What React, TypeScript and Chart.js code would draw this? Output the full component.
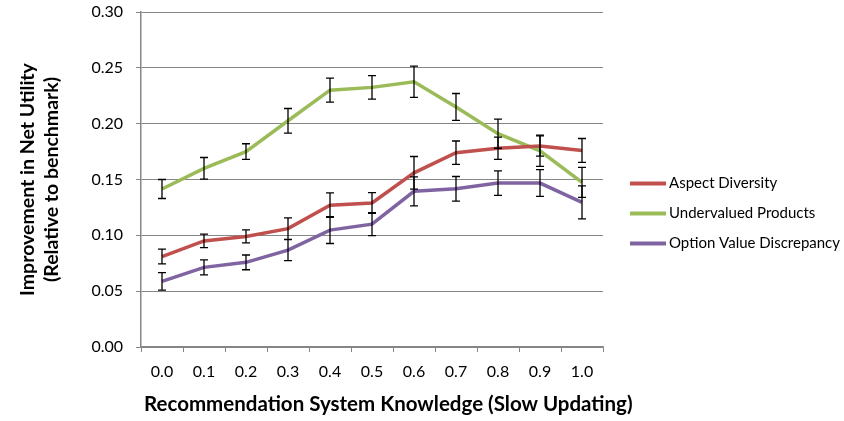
import React, { useEffect, useRef } from "react";
import { Chart, registerables } from "chart.js";

Chart.register(...registerables);

const categories = ["0.0", "0.1", "0.2", "0.3", "0.4", "0.5", "0.6", "0.7", "0.8", "0.9", "1.0"];

const aspectDiversity = [0.081, 0.095, 0.099, 0.106, 0.127, 0.129, 0.156, 0.174, 0.178, 0.18, 0.176];
const aspectDiversityErr = [0.0066, 0.006, 0.0058, 0.0097, 0.011, 0.0093, 0.0146, 0.0105, 0.01, 0.009, 0.0107];

const undervaluedProducts = [0.1415, 0.16, 0.175, 0.2026, 0.23, 0.2325, 0.2375, 0.215, 0.191, 0.1757, 0.1474];
const undervaluedProductsErr = [0.0085, 0.0097, 0.007, 0.011, 0.0107, 0.0105, 0.014, 0.012, 0.013, 0.014, 0.0134];

const optionValue = [0.0588, 0.0713, 0.0758, 0.0868, 0.1047, 0.11, 0.1394, 0.1417, 0.1468, 0.1468, 0.1295];
const optionValueErr = [0.0078, 0.0067, 0.0066, 0.0094, 0.012, 0.0103, 0.013, 0.011, 0.011, 0.012, 0.0148];

const seriesLabels = ["Aspect Diversity", "Undervalued Products", "Option Value Discrepancy"];
const yTitle = ["Improvement in Net Utility", "(Relative to benchmark)"];
const xTitle = "Recommendation System Knowledge (Slow Updating)";

const FONT = "Lato, 'Open Sans', sans-serif";

export default function App() {
  const ref = useRef<HTMLCanvasElement | null>(null);

  useEffect(() => {
    if (!ref.current) return;
    const errors = [aspectDiversityErr, undervaluedProductsErr, optionValueErr];

    const errorBars = {
      id: "errorBars",
      afterDatasetsDraw(chart: any) {
        const { ctx } = chart;
        const y = chart.scales.y;
        ctx.save();
        ctx.strokeStyle = "#000";
        ctx.lineWidth = 1.3;
        chart.data.datasets.forEach((ds: any, di: number) => {
          const meta = chart.getDatasetMeta(di);
          meta.data.forEach((pt: any, i: number) => {
            const v = ds.data[i];
            const e = errors[di][i];
            const x = pt.x;
            const yt = y.getPixelForValue(v + e);
            const yb = y.getPixelForValue(v - e);
            ctx.beginPath();
            ctx.moveTo(x, yt);
            ctx.lineTo(x, yb);
            ctx.moveTo(x - 4, yt);
            ctx.lineTo(x + 4, yt);
            ctx.moveTo(x - 4, yb);
            ctx.lineTo(x + 4, yb);
            ctx.stroke();
          });
        });
        ctx.restore();
      },
    };

    const customLegend = {
      id: "customLegend",
      afterDraw(chart: any) {
        const { ctx, chartArea } = chart;
        ctx.save();
        const x0 = chartArea.right + 27;
        const midY = (chartArea.top + chartArea.bottom) / 2;
        chart.data.datasets.forEach((ds: any, i: number) => {
          const yy = midY + (i - 1) * 30 + 34;
          ctx.strokeStyle = ds.borderColor;
          ctx.lineWidth = 4;
          ctx.beginPath();
          ctx.moveTo(x0, yy);
          ctx.lineTo(x0 + 36, yy);
          ctx.stroke();
          ctx.fillStyle = "#000";
          ctx.font = `15px ${FONT}`;
          ctx.textBaseline = "middle";
          ctx.textAlign = "left";
          ctx.fillText(ds.label, x0 + 39, yy);
        });
        // x axis title (drawn here so it is not squeezed to the plot width)
        ctx.font = `bold 20.5px ${FONT}`;
        ctx.fillStyle = "#000";
        ctx.textBaseline = "middle";
        ctx.textAlign = "left";
        ctx.fillText(xTitle, chartArea.left + 3, chart.scales.x.bottom - 17);
        ctx.restore();
      },
    };

    const chart = new Chart(ref.current, {
      type: "line",
      data: {
        labels: categories,
        datasets: [
          { label: seriesLabels[0], data: aspectDiversity, borderColor: "#C0504D", backgroundColor: "#C0504D" },
          { label: seriesLabels[1], data: undervaluedProducts, borderColor: "#9BBB59", backgroundColor: "#9BBB59" },
          { label: seriesLabels[2], data: optionValue, borderColor: "#8064A2", backgroundColor: "#8064A2" },
        ].map((d) => ({ ...d, borderWidth: 3.5, pointRadius: 0, tension: 0, fill: false })),
      },
      options: {
        responsive: false,
        animation: false,
        devicePixelRatio: 1,
        layout: { padding: { left: 0, right: 241, top: 12, bottom: 0 } },
        plugins: {
          legend: { display: false },
          tooltip: { enabled: false },
        },
        scales: {
          x: {
            type: "category",
            offset: true,
            grid: {
              display: true,
              offset: true,
              drawOnChartArea: false,
              drawTicks: true,
              tickLength: 5,
              color: "#868686",
            },
            border: { display: true, color: "#868686", width: 1.5 },
            ticks: { color: "#000", font: { family: FONT, size: 16 }, padding: 10, maxRotation: 0 },
            title: { display: false },
            afterFit(scale: any) {
              scale.height = 74;
              scale.paddingLeft = 0;
              scale.paddingRight = 0;
            },
          },
          y: {
            min: 0,
            max: 0.3,
            ticks: {
              stepSize: 0.05,
              color: "#000",
              font: { family: FONT, size: 16 },
              padding: 13,
              callback: (v: any) => Number(v).toFixed(2),
            },
            grid: { color: "#868686", lineWidth: 1, tickLength: 5, drawTicks: true },
            border: { display: true, color: "#868686", width: 1.5 },
            title: {
              display: true,
              text: yTitle,
              color: "#000",
              font: { family: FONT, size: 19.5, weight: "bold", lineHeight: 1.23 },
              padding: { top: 16, bottom: 0 },
            },
            afterFit(scale: any) {
              scale.width = 141;
              scale.paddingTop = 0;
              scale.paddingBottom = 0;
            },
          },
        },
      },
      plugins: [errorBars, customLegend],
    } as any);

    return () => chart.destroy();
  }, []);

  return (
    <div style={{ position: "absolute", left: 0, top: 0, width: 844, height: 421, background: "#fff" }}>
      <canvas ref={ref} width={844} height={421} style={{ width: 844, height: 421, display: "block" }} />
    </div>
  );
}
